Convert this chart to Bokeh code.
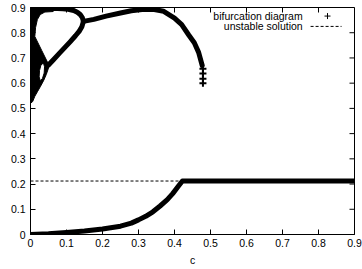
from bokeh.plotting import figure
from bokeh.models import Range1d, FixedTicker, Label, Arrow
from bokeh.embed import file_html
from bokeh.resources import INLINE

# ---------------- data ----------------
x_ticks = [0.0, 0.1, 0.2, 0.3, 0.4, 0.5, 0.6, 0.7, 0.8, 0.9]
x_tick_labels = ["0", "0.1", "0.2", "0.3", "0.4", "0.5", "0.6", "0.7", "0.8", "0.9"]
y_ticks = [0.0, 0.1, 0.2, 0.3, 0.4, 0.5, 0.6, 0.7, 0.8, 0.9]
y_tick_labels = ["0", "0.1", "0.2", "0.3", "0.4", "0.5", "0.6", "0.7", "0.8", "0.9"]
x_label = "c"

# lower stable branch
lower_c = [0.0, 0.05, 0.10, 0.15, 0.20, 0.25, 0.28, 0.30, 0.32, 0.34, 0.36, 0.38,
           0.395, 0.41, 0.422, 0.50, 0.60, 0.70, 0.80, 0.90]
lower_v = [0.0, 0.003, 0.008, 0.014, 0.022, 0.033, 0.045, 0.058, 0.072, 0.090, 0.113, 0.138,
           0.162, 0.190, 0.212, 0.212, 0.212, 0.212, 0.212, 0.212]

# upper period-1 branch
upper_c = [0.147, 0.176, 0.21, 0.25, 0.28, 0.31, 0.34, 0.37, 0.40, 0.42, 0.44, 0.455, 0.467, 0.477]
upper_v = [0.845, 0.853, 0.866, 0.878, 0.887, 0.892, 0.893, 0.885, 0.858, 0.832, 0.790, 0.760, 0.722, 0.670]

# isolated end points of the upper branch
end_c = [0.479, 0.479, 0.479, 0.479]
end_v = [0.657, 0.638, 0.618, 0.600]

# period-2 loop, upper arm
loop_up_c = [0.147, 0.144, 0.138, 0.130, 0.120, 0.105, 0.090, 0.075, 0.063]
loop_up_v = [0.845, 0.860, 0.872, 0.881, 0.888, 0.893, 0.895, 0.896, 0.896]

# period-2 loop, lower arm
loop_lo_c = [0.147, 0.143, 0.135, 0.125, 0.110, 0.095, 0.080, 0.065, 0.050]
loop_lo_v = [0.845, 0.825, 0.805, 0.788, 0.764, 0.741, 0.718, 0.695, 0.672]

# dense (chaotic / higher-period) region near c = 0: outline and inner gap
dense_c = [0.0, 0.063, 0.063, 0.040, 0.027, 0.019, 0.014, 0.012, 0.031, 0.050,
           0.050, 0.044, 0.037, 0.028, 0.020, 0.012, 0.006, 0.0]
dense_v = [0.90, 0.90, 0.884, 0.882, 0.872, 0.852, 0.820, 0.785, 0.730, 0.675,
           0.660, 0.635, 0.612, 0.588, 0.568, 0.548, 0.527, 0.520]
gap_c = [0.036, 0.039, 0.038, 0.033, 0.027, 0.024, 0.025, 0.029]
gap_v = [0.680, 0.665, 0.640, 0.618, 0.610, 0.625, 0.650, 0.672]

# unstable solution
unstable_c = [0.0, 0.9]
unstable_v = [0.212, 0.212]

legend_labels = ["bifurcation diagram", "unstable solution"]

# ---------------- figure ----------------
FONT = "Liberation Sans"
FS = "10.5px"
X0, X1, Y0, Y1 = 0.0, 0.9, 0.0, 0.9
FRAME_W, FRAME_H = 324, 227          # plot area in pixels
TICK = 5                              # inward tick length, pixels

p = figure(width=362, height=269, x_range=Range1d(X0, X1), y_range=Range1d(Y0, Y1),
           output_backend="svg", toolbar_location=None,
           min_border_left=30, min_border_right=8, min_border_top=7, min_border_bottom=35)
p.grid.visible = False
p.outline_line_color = "black"
p.outline_line_width = 1
p.background_fill_color = "white"
p.border_fill_color = "white"

for ax, ticks, labels in [(p.xaxis[0], x_ticks, x_tick_labels), (p.yaxis[0], y_ticks, y_tick_labels)]:
    ax.ticker = FixedTicker(ticks=ticks)
    ax.major_label_overrides = {t: s for t, s in zip(ticks, labels)}
    ax.major_tick_in = TICK
    ax.major_tick_out = 0
    ax.minor_tick_line_color = None
    ax.axis_line_color = "black"
    ax.major_tick_line_color = "black"
    ax.major_label_text_font = FONT
    ax.major_label_text_font_size = FS
    ax.major_label_text_color = "black"
    ax.major_label_standoff = 5
p.xaxis[0].major_label_standoff = 4
p.xaxis[0].axis_label = x_label
p.xaxis[0].axis_label_text_font = FONT
p.xaxis[0].axis_label_text_font_size = FS
p.xaxis[0].axis_label_text_font_style = "normal"
p.xaxis[0].axis_label_text_color = "black"
p.xaxis[0].axis_label_standoff = 4

# mirrored inward ticks on the right and top edges
dx = (X1 - X0) / FRAME_W * TICK
dy = (Y1 - Y0) / FRAME_H * TICK
p.segment(x0=[X1 - dx] * len(y_ticks), y0=y_ticks, x1=[X1] * len(y_ticks), y1=y_ticks,
          line_color="black", line_width=1)
p.segment(x0=x_ticks, y0=[Y1 - dy] * len(x_ticks), x1=x_ticks, y1=[Y1] * len(x_ticks),
          line_color="black", line_width=1)

# unstable solution (dashed)
p.line(unstable_c, unstable_v, line_color="black", line_width=1, line_dash="3 2")

# dense region
p.multi_polygons(xs=[[[dense_c, gap_c]]], ys=[[[dense_v, gap_v]]],
                 fill_color="black", line_color="black", line_width=1)

BW = 5
for cs, vs in [(lower_c, lower_v), (upper_c, upper_v), (loop_up_c, loop_up_v), (loop_lo_c, loop_lo_v)]:
    p.line(cs, vs, line_color="black", line_width=BW, line_cap="round", line_join="round")

p.scatter(end_c, end_v, marker="cross", size=7, line_width=2, line_color="black")

# ---------------- key (gnuplot style: text then sample) ----------------
KEY_TEXT_X = 0.756
KEY_Y = [0.866, 0.825]
for lab, ky in zip(legend_labels, KEY_Y):
    p.add_layout(Label(x=KEY_TEXT_X, y=ky, text=lab, text_align="right", text_baseline="middle",
                       text_font=FONT, text_font_size=FS, text_color="black"))
p.scatter([KEY_TEXT_X + 0.069], [KEY_Y[0]], marker="cross", size=6, line_width=1, line_color="black")
p.add_layout(Arrow(x_start=KEY_TEXT_X + 0.022, y_start=KEY_Y[1], x_end=KEY_TEXT_X + 0.108, y_end=KEY_Y[1],
                   end=None, line_color="black", line_width=1, line_dash="3 2"))

open("out.html", "w").write(file_html(p, INLINE))
